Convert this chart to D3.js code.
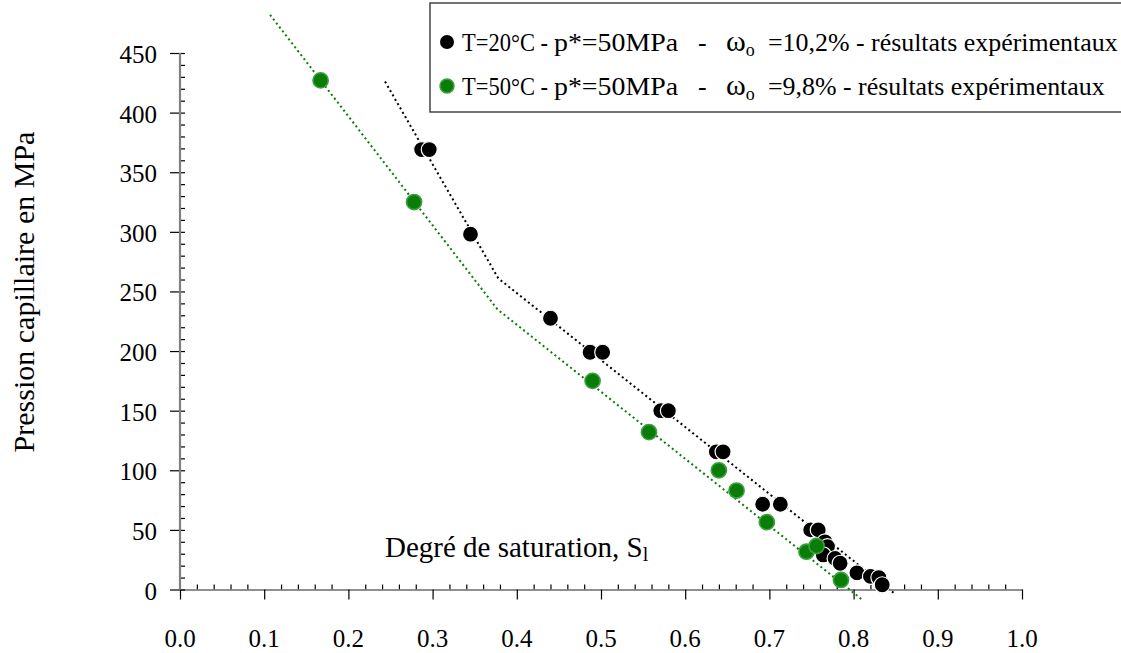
<!DOCTYPE html>
<html><head><meta charset="utf-8">
<script src="https://cdn.jsdelivr.net/npm/d3@7"></script>
<style>
html,body{margin:0;padding:0;background:#fff;}
text{font-family:"Liberation Serif","Times New Roman",serif;fill:#000;}
</style></head>
<body>
<svg id="chart" width="1121" height="653"></svg>
<script>
// ---- data ----
const blackS = [0.287,0.296,0.345,0.440,0.487,0.502,0.571,0.580,0.637,0.645,0.692,0.713,0.749,0.758,0.766,0.769,0.764,0.778,0.784,0.804,0.820,0.830,0.834];
const blackP = [369,369,298,227.5,199,199,150,150,115.5,115.5,71.5,71.5,50,50,40,36,29,26,22,14,11,10,4];
const greenS = [0.167,0.278,0.490,0.557,0.640,0.661,0.697,0.744,0.756,0.785];
const greenP = [427,325,175,132,100,83,56.5,31.7,36.5,8];
const blackTrendS = [0.2435,0.378,0.848];
const blackTrendP = [426,261,-3];
const greenTrendS = [0.107,0.377,0.811];
const greenTrendP = [482,235,-9];
const xTicks = [0,0.1,0.2,0.3,0.4,0.5,0.6,0.7,0.8,0.9,1.0];
const yTicks = [0,50,100,150,200,250,300,350,400,450];
const legendA = ["T=20°C -","T=50°C -"];
const legendB = ["p*=50MPa","p*=50MPa"];
const legendD = ["=10,2% - résultats expérimentaux","=9,8% - résultats expérimentaux"];
const xTitle = "Degré de saturation, S";
const yTitle = "Pression capillaire en MPa";

const BLACK = "#000000", GREEN = "#087d08";

const svg = d3.select("#chart");
const x = d3.scaleLinear().domain([0,1]).range([180,1022]);
const y = d3.scaleLinear().domain([0,450]).range([589.5,53]);

// ---- axes ----
const xMinor = d3.range(0,1.0001,0.02).filter(v=>Math.abs(v*10-Math.round(v*10))>1e-6);
const gx = svg.append("g").attr("transform",`translate(0,${y(0)})`);
gx.call(d3.axisTop(x).tickValues(xMinor).tickSize(5).tickFormat(""));
gx.call(g=>g.select(".domain").remove());
const gx2 = svg.append("g").attr("transform",`translate(0,${y(0)})`);
gx2.call(d3.axisBottom(x).tickValues(xTicks).tickSize(10).tickSizeOuter(0).tickFormat(""));
gx2.select(".domain").attr("stroke","#6a6a6a").attr("stroke-width",1.6);

const yMinor = d3.range(0,450.001,10).filter(v=>v%50!==0);
const gy = svg.append("g").attr("transform",`translate(${x(0)},0)`);
gy.call(d3.axisRight(y).tickValues(yMinor).tickSize(5).tickFormat(""));
gy.call(g=>g.select(".domain").remove());
const gy2 = svg.append("g").attr("transform",`translate(${x(0)+5},0)`);
gy2.call(d3.axisLeft(y).tickValues(yTicks).tickSize(15).tickSizeOuter(0).tickFormat(""));
gy2.call(g=>g.select(".domain").remove());
svg.append("line").attr("x1",x(0)).attr("x2",x(0)).attr("y1",y(450)).attr("y2",y(0))
  .attr("stroke","#808080").attr("stroke-width",2.2);
svg.selectAll(".tick line").attr("stroke","#000").attr("stroke-width",1.2);

// tick labels
svg.append("g").selectAll("text").data(xTicks).join("text")
  .attr("x",d=>x(d)).attr("y",647).attr("text-anchor","middle")
  .attr("font-size",25).text(d=>d.toFixed(1));
svg.append("g").selectAll("text").data(yTicks).join("text")
  .attr("x",157).attr("y",d=>y(d)+10).attr("text-anchor","end")
  .attr("font-size",25).text(d=>d);

// titles
const xt = svg.append("text").attr("x",385).attr("y",557).attr("font-size",29);
xt.append("tspan").text(xTitle);
xt.append("tspan").attr("font-size",20).attr("dy",4).text("l");
svg.append("text").attr("transform","translate(34,292) rotate(-90)")
  .attr("text-anchor","middle").attr("font-size",30).text(yTitle);

// ---- trend lines ----
const line = d3.line().x(d=>x(d[0])).y(d=>y(d[1]));
const bT = blackTrendS.map((s,i)=>[s,blackTrendP[i]]);
const gT = greenTrendS.map((s,i)=>[s,greenTrendP[i]]);
svg.append("path").attr("d",line(bT)).attr("fill","none").attr("stroke",BLACK)
  .attr("stroke-width",2).attr("stroke-dasharray","2,3");
svg.append("path").attr("d",line(gT)).attr("fill","none").attr("stroke",GREEN)
  .attr("stroke-width",2).attr("stroke-dasharray","2,3");

// ---- points ----
const bD = blackS.map((s,i)=>[s,blackP[i]]);
const gD = greenS.map((s,i)=>[s,greenP[i]]);
svg.append("g").selectAll("circle").data(bD).join("circle")
  .attr("cx",d=>x(d[0])).attr("cy",d=>y(d[1])).attr("r",8)
  .attr("fill",BLACK).attr("stroke","#fff").attr("stroke-width",1.2);
svg.append("g").selectAll("circle").data(gD).join("circle")
  .attr("cx",d=>x(d[0])).attr("cy",d=>y(d[1])).attr("r",7.6)
  .attr("fill",GREEN).attr("stroke","#3f9f3f").attr("stroke-width",1.6);

// ---- legend ----
const lg = svg.append("g");
lg.append("rect").attr("x",430).attr("y",3).attr("width",700).attr("height",109)
  .attr("fill","#fff").attr("stroke","#444").attr("stroke-width",1.5);
const rowsY = [42,86];
const colors = [BLACK,GREEN];
rowsY.forEach((cy,i)=>{
  lg.append("circle").attr("cx",447).attr("cy",cy).attr("r",7)
    .attr("fill",colors[i]).attr("stroke",i?"#3f9f3f":"none").attr("stroke-width",1.5);
  const by = cy+9;
  lg.append("text").attr("x",462).attr("y",by).attr("font-size",26)
    .attr("textLength",86).attr("lengthAdjust","spacingAndGlyphs").text(legendA[i]);
  lg.append("text").attr("x",554).attr("y",by).attr("font-size",26)
    .attr("textLength",124).attr("lengthAdjust","spacingAndGlyphs").text(legendB[i]);
  lg.append("text").attr("x",698).attr("y",by).attr("font-size",26).text("-");
  const w = lg.append("text").attr("x",726).attr("y",by).attr("font-size",30);
  w.append("tspan").text("ω");
  w.append("tspan").attr("font-size",18).attr("dy",5).text("o");
  lg.append("text").attr("x",768).attr("y",by).attr("font-size",25.9).text(legendD[i]);
});
</script>
</body></html>
